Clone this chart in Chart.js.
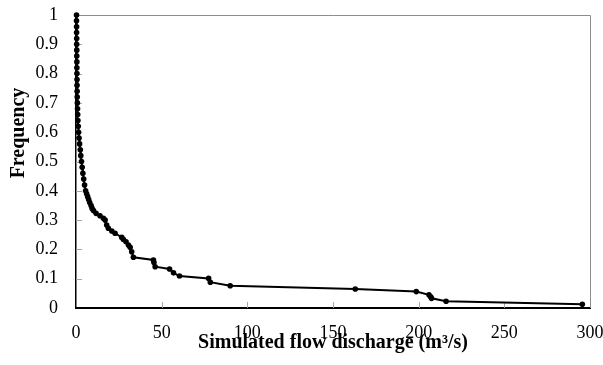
<!DOCTYPE html>
<html>
<head>
<meta charset="utf-8">
<script src="https://cdn.jsdelivr.net/npm/chart.js@4.4.1/dist/chart.umd.min.js"></script>
<style>
  html, body { margin: 0; padding: 0; background: #fff; }
  canvas { display: block; }
</style>
</head>
<body>
<canvas id="fdcChart" width="603" height="365"></canvas>
<script>
// flow duration curve
const discharge = [
  0.3, 0.3, 0.35, 0.35, 0.4, 0.4, 0.45, 0.45, 0.5, 0.5,
  0.55, 0.6, 0.6, 0.65, 0.7, 0.8, 0.9, 1.0, 1.1, 1.3,
  1.5, 1.8, 2.1, 2.5, 2.8, 3.2, 3.6, 4.0, 4.5, 5.0,
  5.6, 6.2, 6.8, 7.4, 8.0, 8.8, 9.4, 10.2, 11.7, 14,
  16, 17, 17.9, 18.9, 20.9, 22.8, 26.7, 27.7, 29.2, 30.6,
  31.6, 32.5, 33.5, 45.2, 45.5, 46.2, 54.6, 56.9, 60.4, 77.4,
  78.4, 90, 163, 198.6, 206, 207, 207.5, 216, 295.5
]
const frequency = [
  1.0, 0.98, 0.96, 0.94, 0.92, 0.90, 0.88, 0.86, 0.84, 0.82,
  0.80, 0.78, 0.76, 0.74, 0.72, 0.70, 0.68, 0.66, 0.64, 0.62,
  0.60, 0.58, 0.56, 0.54, 0.52, 0.50, 0.48, 0.46, 0.44, 0.42,
  0.40, 0.39, 0.38, 0.37, 0.36, 0.35, 0.34, 0.333, 0.323, 0.315,
  0.306, 0.30, 0.283, 0.272, 0.263, 0.255, 0.241, 0.234, 0.226, 0.215,
  0.207, 0.192, 0.173, 0.164, 0.155, 0.141, 0.133, 0.12, 0.109, 0.101,
  0.088, 0.076, 0.065, 0.056, 0.045, 0.038, 0.033, 0.023, 0.013
]
const xTicks = [0, 50, 100, 150, 200, 250, 300]
const yTicks = [0, 0.1, 0.2, 0.3, 0.4, 0.5, 0.6, 0.7, 0.8, 0.9, 1]
const xTitle = "Simulated flow discharge (m\u00b3/s)"
const yTitle = "Frequency"

const serif = "'Liberation Serif', 'Times New Roman', serif"

// gray top/right frame, short inward tick marks, rotated y title
const framePlugin = {
  id: "frame",
  beforeDatasetsDraw(chart) {
    const { ctx, chartArea: a, scales } = chart
    ctx.save()
    ctx.strokeStyle = "#8c8c8c"
    ctx.lineWidth = 1
    ctx.beginPath()
    ctx.moveTo(a.left, a.top + 0.5)
    ctx.lineTo(a.right + 0.5, a.top + 0.5)
    ctx.lineTo(a.right + 0.5, a.bottom)
    ctx.stroke()
    ctx.strokeStyle = "#a6a6a6"
    ctx.beginPath()
    xTicks.slice(1, -1).forEach((v) => {
      const px = Math.round(scales.x.getPixelForValue(v)) + 0.5
      ctx.moveTo(px, a.bottom)
      ctx.lineTo(px, a.bottom - 6)
    })
    yTicks.slice(1, -1).forEach((v) => {
      const py = Math.round(scales.y.getPixelForValue(v)) + 0.5
      ctx.moveTo(a.left, py)
      ctx.lineTo(a.left + 6, py)
    })
    ctx.stroke()
    ctx.restore()
  },
  afterDraw(chart) {
    const { ctx } = chart
    ctx.save()
    ctx.translate(19, 133)
    ctx.rotate(-Math.PI / 2)
    ctx.font = "bold 20px " + serif
    ctx.fillStyle = "#000"
    ctx.textAlign = "center"
    ctx.textBaseline = "middle"
    ctx.fillText(yTitle, 0, 0)
    ctx.restore()
  },
}

const ctx = document.getElementById("fdcChart").getContext("2d")
new Chart(ctx, {
  type: "scatter",
  data: {
    datasets: [
      {
        label: "FDC",
        data: discharge.map((x, i) => ({ x: x, y: frequency[i] })),
        showLine: true,
        borderColor: "#000",
        borderWidth: 2,
        pointRadius: 2.8,
        pointBackgroundColor: "#000",
        pointBorderColor: "#000",
        pointBorderWidth: 0,
        clip: false,
        tension: 0,
      },
    ],
  },
  options: {
    responsive: false,
    animation: false,
    devicePixelRatio: 1,
    layout: { padding: { left: 0, top: 15, right: 13, bottom: 0 } },
    plugins: {
      legend: { display: false },
      tooltip: { enabled: false },
    },
    scales: {
      x: {
        type: "linear",
        min: 0,
        max: 300,
        afterBuildTicks: (s) => { s.ticks = xTicks.map((v) => ({ value: v })) },
        afterFit: (s) => {
          s.height = 57
          s.paddingLeft = 0
          s.paddingRight = 0
        },
        grid: { display: false, drawTicks: false },
        border: { display: true, color: "#000", width: 2 },
        ticks: {
          color: "#000",
          padding: 14,
          maxRotation: 0,
          font: { family: serif, size: 18 },
        },
        title: {
          display: true,
          text: xTitle,
          color: "#000",
          padding: { top: 0, bottom: 10 },
          font: { family: serif, size: 20, weight: "bold" },
        },
      },
      y: {
        type: "linear",
        min: 0,
        max: 1,
        afterBuildTicks: (s) => { s.ticks = yTicks.map((v) => ({ value: v })) },
        afterFit: (s) => {
          s.width = 76
          s.paddingTop = 0
          s.paddingBottom = 0
        },
        grid: { display: false, drawTicks: false },
        border: { display: true, color: "#000", width: 1.5 },
        ticks: {
          color: "#000",
          padding: 18,
          font: { family: serif, size: 18 },
          callback: (v) => String(Math.round(v * 10) / 10),
        },
      },
    },
  },
  plugins: [framePlugin],
})
</script>
</body>
</html>
